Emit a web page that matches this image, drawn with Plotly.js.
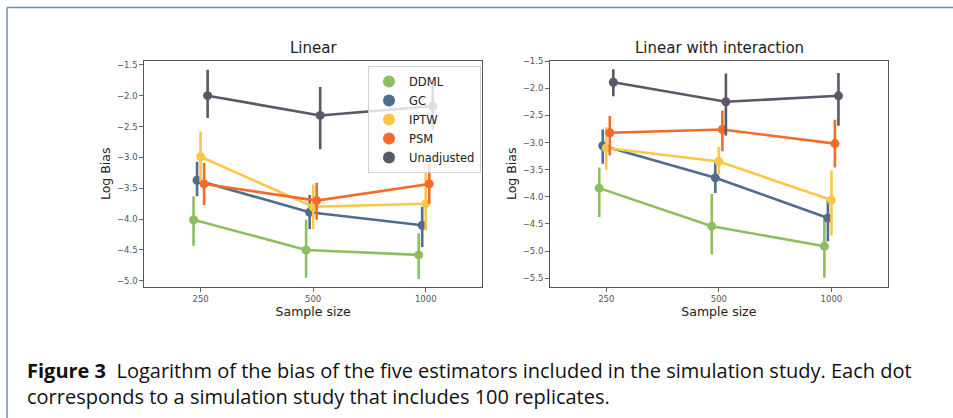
<!DOCTYPE html>
<html>
<head>
<meta charset="utf-8">
<script src="https://cdn.plot.ly/plotly-3.0.1.min.js"></script>
<style>html,body{margin:0;padding:0;background:#fff;}#chart{width:953px;height:418px;}</style>
</head>
<body>
<div id="chart"></div>
<script>
// ---- data ----
const categories = ['250', '500', '1000'];
const estimators = ['DDML', 'GC', 'IPTW', 'PSM', 'Unadjusted'];

// Panel 1: Linear  (mean, upper CI, lower CI)
const linear_DDML       = [-4.01, -4.50, -4.58];
const linear_DDML_hi    = [-3.63, -4.01, -4.23];
const linear_DDML_lo    = [-4.43, -4.95, -4.97];
const linear_GC         = [-3.37, -3.89, -4.10];
const linear_GC_hi      = [-3.07, -3.61, -3.80];
const linear_GC_lo      = [-3.63, -4.16, -4.45];
const linear_IPTW       = [-2.99, -3.80, -3.75];
const linear_IPTW_hi    = [-2.58, -3.44, -3.24];
const linear_IPTW_lo    = [-3.40, -4.16, -4.18];
const linear_PSM        = [-3.43, -3.70, -3.43];
const linear_PSM_hi     = [-3.09, -3.41, -3.09];
const linear_PSM_lo     = [-3.77, -4.01, -3.75];
const linear_Unadj      = [-2.00, -2.32, -2.17];
const linear_Unadj_hi   = [-1.58, -1.86, -1.79];
const linear_Unadj_lo   = [-2.36, -2.87, -2.55];

// Panel 2: Linear with interaction
const inter_DDML        = [-3.84, -4.54, -4.91];
const inter_DDML_hi     = [-3.46, -3.95, -4.40];
const inter_DDML_lo     = [-4.37, -5.06, -5.49];
const inter_GC          = [-3.06, -3.65, -4.39];
const inter_GC_hi       = [-2.76, -3.35, -4.05];
const inter_GC_lo       = [-3.39, -3.93, -4.82];
const inter_IPTW        = [-3.10, -3.35, -4.06];
const inter_IPTW_hi     = [-2.72, -3.08, -3.52];
const inter_IPTW_lo     = [-3.50, -3.59, -4.71];
const inter_PSM         = [-2.82, -2.76, -3.02];
const inter_PSM_hi      = [-2.51, -2.41, -2.58];
const inter_PSM_lo      = [-3.24, -3.16, -3.46];
const inter_Unadj       = [-1.89, -2.25, -2.14];
const inter_Unadj_hi    = [-1.65, -1.73, -1.72];
const inter_Unadj_lo    = [-2.15, -2.87, -2.69];

const leftTicks  = [-5.0, -4.5, -4.0, -3.5, -3.0, -2.5, -2.0, -1.5];
const rightTicks = [-5.5, -5.0, -4.5, -4.0, -3.5, -3.0, -2.5, -2.0, -1.5];

const captionLines = [
  '<b>Figure 3</b>  Logarithm of the bias of the five estimators included in the simulation study. Each dot',
  'corresponds to a simulation study that includes 100 replicates.'
];

// ---- styling ----
const colors = {DDML:'#8cbf5e', GC:'#4f6d8e', IPTW:'#fcc647', PSM:'#f26b2b', Unadjusted:'#5c5767'};
const dodge = [-0.0625, -0.03125, 0, 0.03125, 0.0625];

const panels = [
  {xa:'x', ya:'y', series:[
    [linear_DDML, linear_DDML_hi, linear_DDML_lo],
    [linear_GC, linear_GC_hi, linear_GC_lo],
    [linear_IPTW, linear_IPTW_hi, linear_IPTW_lo],
    [linear_PSM, linear_PSM_hi, linear_PSM_lo],
    [linear_Unadj, linear_Unadj_hi, linear_Unadj_lo]]},
  {xa:'x2', ya:'y2', series:[
    [inter_DDML, inter_DDML_hi, inter_DDML_lo],
    [inter_GC, inter_GC_hi, inter_GC_lo],
    [inter_IPTW, inter_IPTW_hi, inter_IPTW_lo],
    [inter_PSM, inter_PSM_hi, inter_PSM_lo],
    [inter_Unadj, inter_Unadj_hi, inter_Unadj_lo]]}
];

const traces = [];
panels.forEach(p => {
  p.series.forEach((s, i) => {
    const name = estimators[i];
    const mean = s[0], hi = s[1], lo = s[2];
    traces.push({
      type:'scatter', mode:'lines+markers', name:name, showlegend:false,
      xaxis:p.xa, yaxis:p.ya,
      x: categories.map((c, k) => k + dodge[i]),
      y: mean,
      line:{color:colors[name], width:2.6},
      marker:{color:colors[name], size:9},
      error_y:{type:'data', symmetric:false,
        array: mean.map((m, k) => hi[k] - m),
        arrayminus: mean.map((m, k) => m - lo[k]),
        color:colors[name], thickness:2.6, width:0},
      hoverinfo:'skip'
    });
  });
});
// legend entries (markers only)
estimators.forEach(name => {
  traces.push({type:'scatter', mode:'markers', name:name, x:[null], y:[null],
    xaxis:'x', yaxis:'y', marker:{color:colors[name], size:9}, showlegend:true});
});

const tickFont = {family:'DejaVu Sans', size:8.5, color:'#555'};
const titleFont = {family:'DejaVu Sans', size:12.5, color:'#222'};
function xAxis(domain, anchor) {
  return {domain:domain, anchor:anchor, range:[-0.5, 2.5],
    tickmode:'array', tickvals:[0,1,2], ticktext:categories,
    ticks:'outside', ticklen:4, tickcolor:'#666', tickfont:tickFont,
    showline:true, linecolor:'#555', linewidth:1, mirror:true,
    showgrid:false, zeroline:false,
    title:{text:'Sample size', font:titleFont, standoff:3}};
}
function yAxis(domain, anchor, range, ticks) {
  return {domain:domain, anchor:anchor, range:range,
    tickmode:'array', tickvals:ticks, tickformat:'.1f',
    ticks:'outside', ticklen:4, tickcolor:'#666', tickfont:tickFont,
    showline:true, linecolor:'#555', linewidth:1, mirror:true,
    showgrid:false, zeroline:false,
    title:{text:'Log Bias', font:titleFont, standoff:3}};
}

const yDom = [1 - 287/418, 1 - 60.5/418];
const layout = {
  width:953, height:418,
  margin:{l:0, r:0, t:0, b:0},
  paper_bgcolor:'#fff', plot_bgcolor:'#fff',
  font:{family:'DejaVu Sans'},
  xaxis: xAxis([144.3/953, 482/953], 'y'),
  yaxis: yAxis(yDom, 'x', [-5.10, -1.43], leftTicks),
  xaxis2: xAxis([550/953, 887.7/953], 'y2'),
  yaxis2: yAxis(yDom, 'x2', [-5.66, -1.49], rightTicks),
  showlegend:true,
  legend:{x:368/953, y:1 - 66/418, xanchor:'left', yanchor:'top',
    bgcolor:'rgba(255,255,255,0.8)', bordercolor:'#d0d0d0', borderwidth:1,
    font:{family:'DejaVu Sans', size:11.5, color:'#222'}, itemsizing:'constant',
    tracegroupgap:0},
  annotations:[
    {text:'Linear', xref:'paper', yref:'paper', x:313/953, y:1 - 48/418,
      xanchor:'center', yanchor:'middle', showarrow:false,
      font:{family:'DejaVu Sans', size:15, color:'#222'}},
    {text:'Linear with interaction', xref:'paper', yref:'paper', x:719/953, y:1 - 48/418,
      xanchor:'center', yanchor:'middle', showarrow:false,
      font:{family:'DejaVu Sans', size:15, color:'#222'}},
    {text: captionLines.join('<br>'),
      xref:'paper', yref:'paper', x:25/953, y:1 - 383.5/418,
      xanchor:'left', yanchor:'middle', showarrow:false, align:'left',
      font:{family:'Open Sans', size:20, color:'#111'}}
  ],
  shapes:[
    {type:'line', xref:'paper', yref:'paper', x0:7/953, x1:1, y0:1 - 7.5/418, y1:1 - 7.5/418,
      line:{color:'#6f8db0', width:1.5}},
    {type:'line', xref:'paper', yref:'paper', x0:7/953, x1:7/953, y0:1 - 7.5/418, y1:0,
      line:{color:'#6f8db0', width:1.5}}
  ]
};

Plotly.newPlot('chart', traces, layout, {displayModeBar:false, staticPlot:true});
</script>
</body>
</html>
